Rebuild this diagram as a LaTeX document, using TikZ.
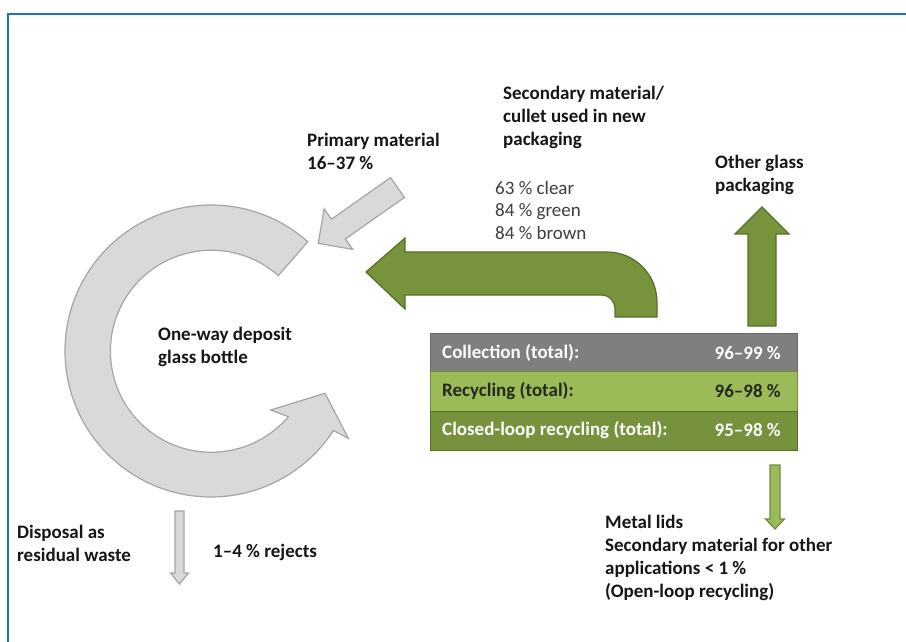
\documentclass[tikz,border=0pt]{standalone}
\usepackage{fontspec}
\setmainfont{Carlito}
\usetikzlibrary{calc}
\definecolor{frameblue}{HTML}{1F6FC2}
\definecolor{greyfill}{HTML}{D9D9D9}
\definecolor{greyline}{HTML}{A5A5A5}
\definecolor{olive}{HTML}{77933C}
\definecolor{oliveline}{HTML}{56702A}
\definecolor{lightgreen}{HTML}{9BBB59}
\definecolor{lightgreenline}{HTML}{71893F}
\definecolor{rowgrey}{HTML}{7F7F7F}
\definecolor{rowgreyline}{HTML}{6A6A6A}
\definecolor{rowdark}{HTML}{76923C}
\definecolor{txt}{HTML}{161616}
\definecolor{txtgrey}{HTML}{3F3F3F}
\newcommand\blockarrow[6][]{%
  \coordinate (H) at ($(#3)!#6!(#2)$);
  \draw[#1] ($(#2)!#4!90:(#3)$) -- ($(H)!#4!-90:(#2)$) -- ($(H)!#5!-90:(#2)$)
    -- (#3) -- ($(H)!#5!90:(#2)$) -- ($(H)!#4!90:(#2)$) -- ($(#2)!#4!-90:(#3)$) -- cycle;}
\tikzset{
  greyarrow/.style={fill=greyfill, draw=greyline, line width=1.2pt, line join=miter},
  greenarrow/.style={fill=olive, draw=oliveline, line width=1.2pt, line join=miter},
  thingreen/.style={fill=lightgreen, draw=lightgreenline, line width=1.2pt},
  lbl/.style={anchor=west, inner sep=0pt, align=left, text=txt,
    font=\fontsize{19}{23}\selectfont\bfseries},
  datalbl/.style={anchor=west, inner sep=0pt, align=left, text=txtgrey,
    font=\fontsize{19}{22.5}\selectfont},
  rowbox/.style={anchor=north west, minimum width=367pt, inner sep=0pt, line width=1pt},
  rowtxt/.style={inner sep=0pt, font=\fontsize{19}{22}\selectfont\bfseries},
}
\begin{document}
\begin{tikzpicture}[x=1pt,y=-1pt]
\useasboundingbox (0,0) rectangle (906,642);
\fill[white] (0,0) rectangle (906,642);
% frame
\draw[frameblue, line width=2.5pt] (8,642) -- (8,14) -- (906,14);
% C-shaped circular arrow
\draw[greyarrow] (211,351) ++(-48.5:146) arc[start angle=-48.5, end angle=-327, radius=146]
  -- (348.3,438.3) -- (325,393.3) -- (270.7,410) -- (288.3,416.7)
  arc[start angle=-319.6, end angle=-48.5, radius=101] -- cycle;
% primary material arrow
\coordinate (pa) at (397.5,187.5);
\coordinate (pb) at (318.3,243.3);
\blockarrow[greyarrow]{pa}{pb}{12.1pt}{24.8pt}{24.6pt}
% rejects arrow
\coordinate (ra) at (179.5,511);
\coordinate (rb) at (179.5,584);
\blockarrow[greyarrow]{ra}{rb}{4.5pt}{9pt}{11pt}
% bent green arrow
\draw[greenarrow] (366,272) -- (405,238) -- (405,252) -- (607,252)
  arc[start angle=-90, end angle=0, radius=50] -- (657,317) -- (615,317) -- (615,309)
  arc[start angle=0, end angle=-90, x radius=13, y radius=14] -- (405,295) -- (405,309) -- cycle;
% up green arrow
\coordinate (ua) at (762,326);
\coordinate (ub) at (762,207);
\blockarrow[greenarrow]{ua}{ub}{14pt}{27pt}{27pt}
% thin green down arrow
\coordinate (da) at (775,465);
\coordinate (db) at (775,529);
\blockarrow[thingreen]{da}{db}{5pt}{9.5pt}{10pt}
% table
\node[rowbox, fill=rowgrey, draw=rowgreyline, minimum height=38pt] (row1) at (430,333) {};
\node[rowbox, fill=lightgreen, draw=lightgreenline, minimum height=40pt] (row2) at (430,371) {};
\node[rowbox, fill=rowdark, draw=oliveline, minimum height=39pt] (row3) at (430,411) {};
\node[rowtxt, anchor=west, text=white] (c1) at (442,353) {Collection (total):};
\node[rowtxt, anchor=east, text=white] (v1) at (781,353) {96–99 \%};
\node[rowtxt, anchor=west, text=txt!85!olive] (c2) at (442,391) {Recycling (total):};
\node[rowtxt, anchor=east, text=txt!85!olive] (v2) at (781,391) {96–98 \%};
\node[rowtxt, anchor=west, text=white] (c3) at (442,430) {Closed-loop recycling (total):};
\node[rowtxt, anchor=east, text=white] (v3) at (781,430) {95–98 \%};
% labels
\node[lbl] (prim) at (307,151) {Primary material\\16–37 \%};
\node[lbl] (sec) at (503,117) {Secondary material/\\cullet used in new\\packaging};
\node[datalbl] (data) at (495,210) {63 \% clear\\84 \% green\\84 \% brown};
\node[lbl] (other) at (715,175) {Other glass\\packaging};
\node[lbl] (bottle) at (158,347) {One-way deposit\\glass bottle};
\node[lbl] (disp) at (17,543) {Disposal as\\residual waste};
\node[lbl] (rej) at (213,552) {1–4 \% rejects};
\node[lbl] (metal) at (605,558) {Metal lids\\Secondary material for other\\applications < 1 \%\\(Open-loop recycling)};
\end{tikzpicture}
\end{document}
